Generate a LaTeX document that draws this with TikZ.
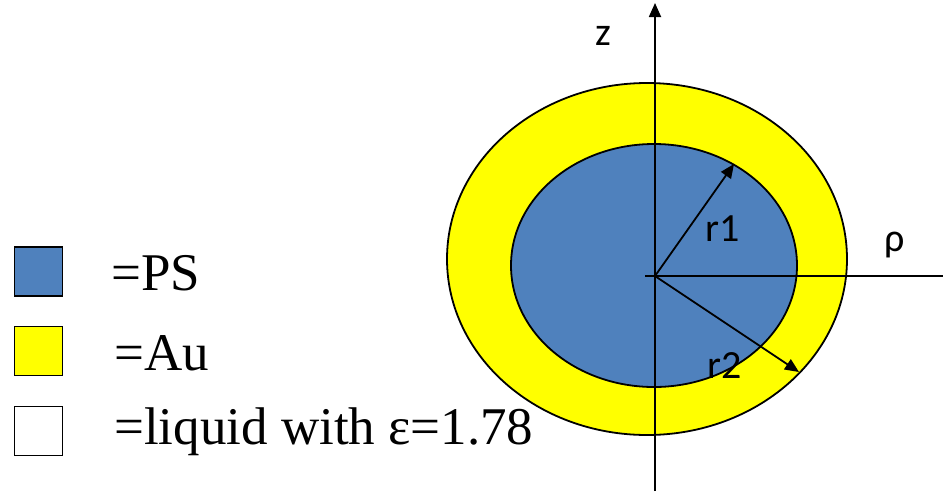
\documentclass[tikz,border=0pt]{standalone}
\usepackage{fontspec}
\setmainfont{Liberation Serif}
\newfontfamily\labelfont{Carlito}
\usetikzlibrary{arrows.meta, positioning}

\definecolor{psblue}{HTML}{4F81BD}
\definecolor{auyellow}{HTML}{FFFF00}

\begin{document}
\begin{tikzpicture}[
  x=1pt, y=-1pt,
  layer/.style={draw=black, line width=1.8pt},
  swatch/.style={rectangle, draw=black, line width=1.8pt, minimum width=48pt,
                 minimum height=49pt, inner sep=0pt},
  legtext/.style={anchor=base west, inner sep=0pt,
                  font=\fontsize{53}{64}\selectfont},
  axislabel/.style={inner sep=0pt, font=\labelfont\fontsize{40}{48}\selectfont},
  axis/.style={line width=1.8pt},
  arr/.style={-{Triangle[length=14pt, width=12pt]}, line width=1.8pt}
]
  \useasboundingbox (0,0) rectangle (943,491);

  % Shell and core
  \draw[layer, fill=auyellow] (647,259) ellipse [x radius=200, y radius=176];
  \draw[layer, fill=psblue] (654,265.5) ellipse [x radius=143, y radius=121.5];

  % Axes
  \coordinate (O) at (655,276);
  \coordinate (rhoend) at (943,276);
  \coordinate (zstart) at (655,491);
  \coordinate (ztop) at (655,3);
  \draw[axis] ([xshift=-10pt]O) -- (rhoend);
  \draw[arr] (zstart) -- (ztop);

  % Radii
  \coordinate (r1end) at (734,164);
  \coordinate (r2end) at (799,372);
  \draw[arr] (O) -- (r1end);
  \draw[arr] (O) -- (r2end);

  \node[axislabel] (zlab) at (603,36) {z};
  \node[axislabel] (rholab) at (895,245) {ρ};
  \node[axislabel] (r1lab) at (723,229) {r1};
  \node[axislabel] (r2lab) at (725,366) {r2};

  % Legend
  \node[swatch, fill=psblue] (ps) at (38.5,271.5) {};
  \node[swatch, fill=auyellow] (au) at (38.5,351) {};
  \node[swatch, fill=white] (liq) at (38.5,431) {};
  \node[legtext] (pstext) at (111,290) {=PS};
  \node[legtext] (autext) at (114,370) {=Au};
  \node[legtext] (liqtext) at (114,444) {=liquid with ε=1.78};
\end{tikzpicture}
\end{document}
